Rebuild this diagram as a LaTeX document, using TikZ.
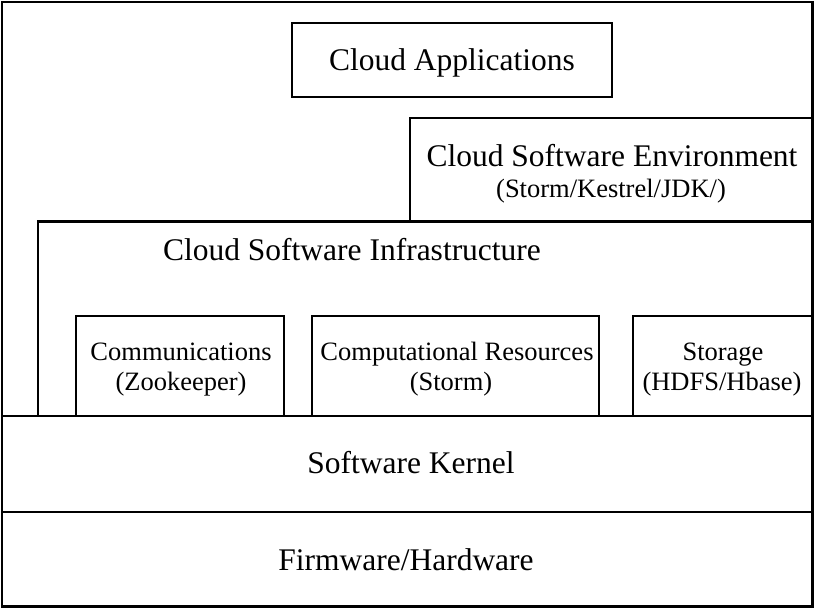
\documentclass[tikz,border=0pt]{standalone}
\usepackage{fontspec}
\setmainfont{Liberation Serif}
\begin{document}
\begin{tikzpicture}[x=1pt,y=-1pt,
  box/.style={draw=black, line width=2.5pt, fill=none, inner sep=0pt, outer sep=0pt, anchor=north west, rectangle},
  bigtext/.style={inner sep=0pt, anchor=base, font=\fontsize{31.5}{36}\selectfont},
  smalltext/.style={inner sep=0pt, anchor=base, font=\fontsize{26.5}{30}\selectfont}]
\useasboundingbox (0,0) rectangle (815,608);
\fill[white] (0,0) rectangle (815,608);
% outer frame
\node[box, minimum width=810.5pt, minimum height=604.5pt] (frame) at (1.8,1.8) {};
% layers
\node[box, minimum width=810.5pt, minimum height=94.3pt] (firm) at (1.8,512) {};
\node[box, minimum width=810.5pt, minimum height=96pt] (kernel) at (1.8,416) {};
\node[box, minimum width=774.3pt, minimum height=194.5pt] (infra) at (38,221.5) {};
\node[box, minimum width=402.3pt, minimum height=103.5pt] (env) at (410,118) {};
\node[box, minimum width=320pt, minimum height=74pt] (app) at (292,23) {};
\node[box, minimum width=208pt, minimum height=100pt] (comm) at (76,316) {};
\node[box, minimum width=287pt, minimum height=100pt] (comp) at (312,316) {};
\node[box, minimum width=179.3pt, minimum height=100pt] (stor) at (633,316) {};
% texts
\node[bigtext] (tapp) at (452,70) {Cloud Applications};
\node[bigtext] (tenv) at (612,166) {Cloud Software Environment};
\node[smalltext] (tenv2) at (611,197) {(Storm/Kestrel/JDK/)};
\node[bigtext] (tinfra) at (352,260) {Cloud Software Infrastructure};
\node[smalltext] (tcomm) at (181,360) {Communications};
\node[smalltext] (tcomm2) at (181,390) {(Zookeeper)};
\node[smalltext] (tcomp) at (457,360) {Computational Resources};
\node[smalltext] (tcomp2) at (451,390) {(Storm)};
\node[smalltext] (tstor) at (723,360) {Storage};
\node[smalltext] (tstor2) at (722,390) {(HDFS/Hbase)};
\node[bigtext] (tkern) at (411,473) {Software Kernel};
\node[bigtext] (tfirm) at (406,570) {Firmware/Hardware};
\end{tikzpicture}
\end{document}
